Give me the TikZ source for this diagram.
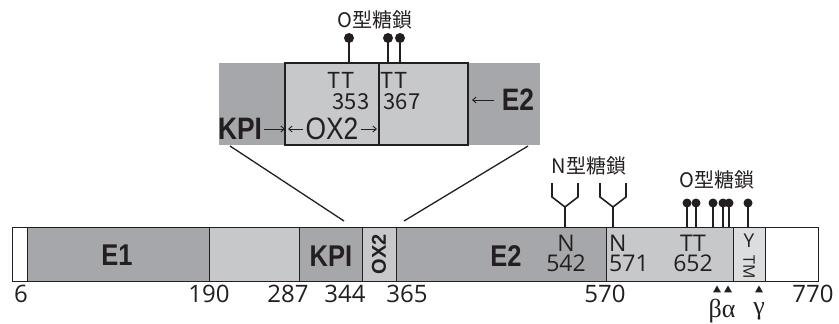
\documentclass[tikz,border=0pt]{standalone}
\usepackage{fontspec}
\setmainfont{Open Sans}
\newfontfamily\jpfont{Noto Sans CJK JP}
\newfontfamily\labfont{Liberation Sans}[FakeStretch=0.85]
\newfontfamily\labplain{Liberation Sans}
\newfontfamily\grfont{Liberation Serif}
\usetikzlibrary{arrows.meta,positioning,shapes.geometric}
\definecolor{DarkDom}{HTML}{A6A7AA}
\definecolor{LightDom}{HTML}{C7C8CA}
\definecolor{PaleDom}{HTML}{DCDDDE}
\definecolor{Ink}{HTML}{231F20}
\tikzset{
  dom/.style={draw=Ink,line width=0.9pt,inner sep=0pt,outer sep=0pt,minimum height=54pt,anchor=north west},
  domdark/.style={dom,fill=DarkDom},
  domlight/.style={dom,fill=LightDom},
  zoomdom/.style={inner sep=0pt,outer sep=0pt,minimum height=82pt,anchor=north west},
  bigname/.style={font=\labfont\bfseries\fontsize{30}{30}\selectfont,text=Ink,inner sep=0pt},
  zoomname/.style={font=\labfont\bfseries\fontsize{31}{31}\selectfont,text=Ink,inner sep=0pt},
  num/.style={font=\fontsize{24}{24}\selectfont,text=Ink,inner sep=0pt},
  inbar/.style={font=\fontsize{23}{23}\selectfont,text=Ink,inner sep=0pt},
  inzoom/.style={font=\jpfont\fontsize{22}{22}\selectfont,text=Ink,inner sep=0pt},
  glyco/.style={font=\jpfont\fontsize{20}{20}\selectfont,text=Ink,inner sep=0pt},
  stick/.style={line width=1.6pt,color=Ink},
  tiny/.style={-{Straight Barb[length=3.5pt,width=6pt]},line width=0.9pt,color=Ink},
  zoomline/.style={line width=1.3pt,color=Ink},
  site/.style={regular polygon,regular polygon sides=3,fill=Ink,inner sep=0pt,minimum size=9pt}
}

\begin{document}
\begin{tikzpicture}[x=1pt,y=-1pt,node distance=3pt]
  \useasboundingbox (0,0) rectangle (839,324);

  % main chain
  \node[dom,fill=white,minimum width=15pt] (nterm) at (12,227) {};
  \node[domdark,minimum width=182pt] (e1) at (27,227) {};
  \node[domlight,minimum width=90pt] (gap) at (209,227) {};
  \node[domdark,minimum width=63pt] (kpi) at (299,227) {};
  \node[domlight,minimum width=34pt] (ox2) at (362,227) {};
  \node[domdark,minimum width=210pt] (e2) at (396,227) {};
  \node[domlight,minimum width=127pt] (stalk) at (606,227) {};
  \node[dom,fill=PaleDom,minimum width=32pt] (tm) at (733,227) {};
  \node[dom,fill=white,minimum width=53pt] (cterm) at (765,227) {};

  \node[bigname] (e1lab) at (117,255) {E1};
  \node[bigname] (kpilab) at (331,256) {KPI};
  \node[bigname,font=\labplain\bfseries\fontsize{20}{20}\selectfont,rotate=90] (ox2lab) at (379,254) {OX2};
  \node[bigname] (e2lab) at (506,256) {E2};
  \node[inbar] (d542) at (566,263) {542};
  \node[inbar,above=of d542] (nn542) {N};
  \node[inbar,anchor=west] (d571) at (609,263) {571};
  \node[inbar,above=of d571.north west,anchor=south west] (nn571) {N};
  \node[inbar] (d652) at (693,263) {652};
  \node[inbar,above=of d652] (tt652) {TT};
  \node[inbar,font=\fontsize{19}{19}\selectfont] (ylab) at (749,241) {Y};
  \node[inbar,font=\fontsize{16}{16}\selectfont,rotate=-90] (tmlab) at (749,267) {TM};

  % residue numbers
  \node[num] (p6) at (21,294) {6};
  \node[num] (p190) at (209,294) {190};
  \node[num] (p287) at (288,294) {287};
  \node[num] (p344) at (345,294) {344};
  \node[num] (p365) at (407,294) {365};
  \node[num] (p570) at (605,294) {570};
  \node[num] (p770) at (813,294) {770};

  % cleavage sites
  \node[site] (sb) at (717,290) {};
  \node[site] (sa) at (728,290) {};
  \node[site] (sg) at (759,290) {};
  \node[font=\grfont\fontsize{26}{26}\selectfont,text=Ink,inner sep=0pt] (ba) at (722,311) {βα};
  \node[font=\grfont\fontsize{26}{26}\selectfont,text=Ink,inner sep=0pt] (gm) at (759,311) {γ};

  % glycans
  \node[glyco] (nglyc) at (589,166) {N型糖鎖};
  \foreach \x in {565,613}
    \draw[stick] (\x,227) -- (\x,207) -- (\x-13,197) -- (\x-13,183)
                 (\x,207) -- (\x+13,197) -- (\x+13,183);
  \node[glyco] (oglyc) at (717,180) {O型糖鎖};
  \foreach \x in {687,696,713,723,729,748} {
    \draw[stick] (\x,227) -- (\x,203);
    \fill[Ink] (\x,203) circle (4.5pt);
  }

  % enlarged region
  \node[zoomdom,fill=DarkDom,minimum width=66pt] (kpiZ) at (219,63) {};
  \node[zoomdom,fill=DarkDom,minimum width=72pt] (e2Z) at (468,63) {};
  \node[zoomdom,fill=LightDom,draw=Ink,line width=1.2pt,minimum width=94pt] (ox2Z) at (285,63) {};
  \node[zoomdom,fill=LightDom,draw=Ink,line width=1.2pt,minimum width=89pt] (restZ) at (379,63) {};

  \node[inzoom] (tt1) at (341,80) {TT};
  \node[inzoom] (n353) at (351,102) {353};
  \node[inzoom] (tt2) at (394,80) {TT};
  \node[inzoom] (n367) at (402,102) {367};
  \node[zoomname] (kpiZlab) at (240,129) {KPI};
  \node[font=\labfont\fontsize{31}{31}\selectfont,text=Ink,inner sep=0pt] (ox2Zlab) at (332,129) {OX2};
  \node[zoomname] (e2Zlab) at (518,100) {E2};
  \draw[tiny] ([xshift=2pt]kpiZlab.east) -- (kpiZlab.east -| ox2Z.west);
  \draw[tiny,shorten >=3pt] ([xshift=-2pt]ox2Zlab.west) -- (ox2Zlab.west -| ox2Z.west);
  \draw[tiny,shorten >=2pt] ([xshift=2pt]ox2Zlab.east) -- (ox2Zlab.east -| ox2Z.east);
  \draw[tiny,shorten >=4pt] ([xshift=-8pt]e2Zlab.west) -- (e2Zlab.west -| e2Z.west);

  \node[glyco] (oglycZ) at (375,20) {O型糖鎖};
  \foreach \x in {349,388,400} {
    \draw[stick] (\x,63) -- (\x,38);
    \fill[Ink] (\x,38) circle (5pt);
  }

  \coordinate (zl1) at (230,146);
  \coordinate (zl2) at (344,221);
  \coordinate (zr1) at (528,146);
  \coordinate (zr2) at (404,221);
  \draw[zoomline] (zl1) -- (zl2);
  \draw[zoomline] (zr1) -- (zr2);
\end{tikzpicture}
\end{document}
